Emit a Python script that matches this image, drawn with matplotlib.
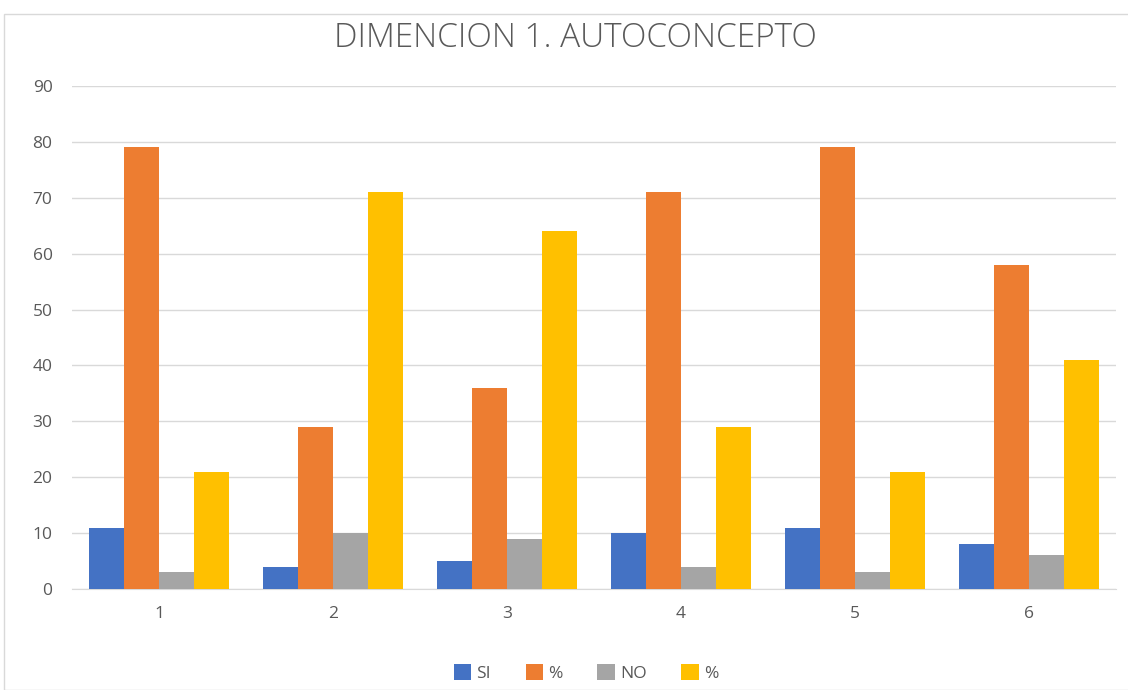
import matplotlib
matplotlib.use("Agg")
import matplotlib.pyplot as plt
import numpy as np
from matplotlib.patches import Rectangle

categories = ["1", "2", "3", "4", "5", "6"]
si = [11, 4, 5, 10, 11, 8]
si_pct = [79, 29, 36, 71, 79, 58]
no = [3, 10, 9, 4, 3, 6]
no_pct = [21, 71, 64, 29, 21, 41]
series_labels = ["SI", "%", "NO", "%"]
colors = ["#4472C4", "#ED7D31", "#A5A5A5", "#FFC000"]
yticks = [0, 10, 20, 30, 40, 50, 60, 70, 80, 90]

plt.rcParams['font.family'] = ['Open Sans', 'DejaVu Sans']

fig = plt.figure(figsize=(11.28, 6.9), dpi=100)
fig.patches.append(Rectangle((4/1128, 0), 1.2, 1 - 14/690, transform=fig.transFigure,
                             fill=False, edgecolor="#D9D9D9", linewidth=1))
ax = fig.add_axes([72/1128, 1 - 589/690, (1116 - 72)/1128, (589 - 86)/690])

x = np.arange(len(categories))
w = 0.2
data = [si, si_pct, no, no_pct]
for i, (vals, lab, c) in enumerate(zip(data, series_labels, colors)):
    ax.bar(x + (i - 1.5) * w, vals, width=w, color=c, label=lab, zorder=3)

ax.set_xlim(-0.5, len(categories) - 0.5)
ax.set_ylim(0, 90)
ax.set_yticks(yticks)
ax.set_xticks(x)
ax.set_xticklabels(categories)
ax.grid(axis="y", color="#D9D9D9", linewidth=1, zorder=0)
for s in ["top", "right", "left"]:
    ax.spines[s].set_visible(False)
ax.spines["bottom"].set_color("#D9D9D9")
ax.tick_params(axis="both", length=0, labelsize=12.5, colors="#595959")
ax.tick_params(axis="x", pad=12)
ax.tick_params(axis="y", pad=14)

fig.text(575/1128, 1 - 38/690, "DIMENCION 1. AUTOCONCEPTO", ha="center", va="center",
         fontsize=24, color="#595959", fontweight="light")

leg = fig.legend(loc="center", bbox_to_anchor=(586/1128, 1 - 673/690), ncol=4, frameon=False,
                 fontsize=12.5, handlelength=1.0, handleheight=1.0, handletextpad=0.3,
                 columnspacing=2.0, labelcolor="#595959")

fig.savefig("out.png", dpi=100)
